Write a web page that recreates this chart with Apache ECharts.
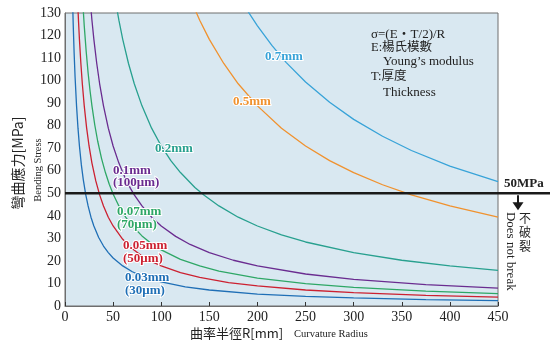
<!DOCTYPE html>
<html><head><meta charset="utf-8">
<script src="https://cdn.jsdelivr.net/npm/echarts@6/dist/echarts.min.js"></script>
<style>html,body{margin:0;padding:0;background:#fff}#c{width:555px;height:341px}</style>
</head><body><div id="c"></div>
<script>
// Curvature radius R [mm] and bending stress [MPa]
const r003 = [7.5, 8.5, 9.5, 10.5, 12, 13.5, 15, 17, 19, 21.5, 24, 27, 30, 35, 40, 45, 50, 60, 70, 80, 100, 125, 150, 200, 250, 300, 375, 450];
const s003 = [142.0, 125.3, 112.1, 101.4, 88.8, 78.9, 71.0, 62.6, 56.1, 49.5, 44.4, 39.4, 35.5, 30.4, 26.6, 23.7, 21.3, 17.8, 15.2, 13.3, 10.7, 8.5, 7.1, 5.3, 4.3, 3.6, 2.8, 2.4];
const r005 = [13, 14, 15, 16.5, 18, 20, 22.5, 25, 28, 32, 36, 40, 45, 50, 60, 70, 80, 90, 100, 120, 140, 170, 200, 250, 300, 375, 450];
const s005 = [136.5, 126.8, 118.3, 107.6, 98.6, 88.8, 78.9, 71.0, 63.4, 55.5, 49.3, 44.4, 39.4, 35.5, 29.6, 25.4, 22.2, 19.7, 17.8, 14.8, 12.7, 10.4, 8.9, 7.1, 5.9, 4.7, 3.9];
const r007 = [18, 20, 22, 24, 26, 28, 31, 34, 38, 42, 46, 50, 56, 63, 70, 80, 90, 100, 120, 140, 160, 200, 250, 300, 375, 450];
const s007 = [138.1, 124.3, 113.0, 103.5, 95.6, 88.8, 80.2, 73.1, 65.4, 59.2, 54.0, 49.7, 44.4, 39.4, 35.5, 31.1, 27.6, 24.9, 20.7, 17.8, 15.5, 12.4, 9.9, 8.3, 6.6, 5.5];
const r01 = [26, 28, 30, 33, 36, 40, 45, 50, 56, 62, 68, 72, 80, 90, 100, 115, 130, 150, 175, 200, 250, 300, 375, 450];
const s01 = [136.5, 126.8, 118.3, 107.6, 98.6, 88.8, 78.9, 71.0, 63.4, 57.3, 52.2, 49.3, 44.4, 39.4, 35.5, 30.9, 27.3, 23.7, 20.3, 17.8, 14.2, 11.8, 9.5, 7.9];
const r02 = [52, 56, 60, 66, 72, 80, 90, 100, 110, 120, 135, 145, 160, 180, 200, 225, 250, 300, 350, 400, 450];
const s02 = [136.5, 126.8, 118.3, 107.6, 98.6, 88.8, 78.9, 71.0, 64.5, 59.2, 52.6, 49.0, 44.4, 39.4, 35.5, 31.6, 28.4, 23.7, 20.3, 17.8, 15.8];
const r05 = [130, 140, 150, 165, 180, 200, 225, 250, 275, 300, 330, 360, 400, 450];
const s05 = [136.5, 126.8, 118.3, 107.6, 98.6, 88.8, 78.9, 71.0, 64.5, 59.2, 53.8, 49.3, 44.4, 39.4];
const r07 = [180, 190, 200, 215, 230, 250, 275, 300, 330, 360, 400, 450];
const s07 = [138.1, 130.8, 124.3, 115.6, 108.0, 99.4, 90.4, 82.8, 75.3, 69.0, 62.1, 55.2];
const threshold = 50;
const xTicks = [0, 450, 50];
const yTicks = [0, 130, 10];

const curves = [
  {name: '0.03mm', r: r003, s: s003, color: '#1f6fb6'},
  {name: '0.05mm', r: r005, s: s005, color: '#cc2131'},
  {name: '0.07mm', r: r007, s: s007, color: '#2ea766'},
  {name: '0.1mm', r: r01, s: s01, color: '#6a2c90'},
  {name: '0.2mm', r: r02, s: s02, color: '#28a08f'},
  {name: '0.5mm', r: r05, s: s05, color: '#f0922f'},
  {name: '0.7mm', r: r07, s: s07, color: '#38a3d8'}
];

const chart = echarts.init(document.getElementById('c'), null, {renderer: 'canvas'});
const serif = '"Liberation Serif", "Noto Sans CJK TC", serif';
const sans = '"Noto Sans CJK TC", "Noto Sans", sans-serif';

chart.setOption({
  animation: false,
  grid: {left: 65, top: 13, right: 57, bottom: 35, show: true, backgroundColor: '#d9e8f1', borderColor: '#6e6e6e', borderWidth: 1},
  xAxis: {type: 'value', min: xTicks[0], max: xTicks[1], interval: xTicks[2],
    axisLine: {lineStyle: {color: '#6e6e6e'}},
    axisTick: {inside: true, length: 4, lineStyle: {color: '#333'}},
    splitLine: {show: false},
    axisLabel: {fontFamily: serif, fontSize: 14, color: '#222', margin: 4}},
  yAxis: {type: 'value', min: yTicks[0], max: yTicks[1], interval: yTicks[2],
    axisLine: {show: true, lineStyle: {color: '#6e6e6e'}},
    axisTick: {show: false},
    splitLine: {show: false},
    axisLabel: {fontFamily: serif, fontSize: 14, color: '#222', margin: 4}},
  series: curves.map(c => ({
    type: 'line', name: c.name, smooth: false, symbol: 'none', clip: true,
    lineStyle: {color: c.color, width: 1.3},
    data: c.r.map((v, i) => [v, c.s[i]])
  }))
});

const p0 = chart.convertToPixel({gridIndex: 0}, [xTicks[0], threshold]);
const ty = p0[1];

function lbl(text, x, y, color, extra) {
  return Object.assign({type: 'text', x: x, y: y, silent: true, z: 50,
    style: {text: text, fill: color, font: 'bold 13px ' + serif, stroke: '#fff', lineWidth: 2,
      textAlign: 'left', textVerticalAlign: 'middle'}}, extra || {});
}
function txt(text, x, y, font, opts) {
  const o = opts || {};
  return {type: 'text', x: x, y: y, rotation: o.rot || 0, silent: true,
    style: {text: text, fill: o.color || '#222', font: font,
      textAlign: o.align || 'left', textVerticalAlign: 'middle', lineHeight: o.lh}};
}

chart.setOption({
  graphic: [
    // threshold line
    {type: 'line', shape: {x1: p0[0], y1: ty, x2: 550, y2: ty}, style: {stroke: '#1a1a1a', lineWidth: 2.5}, z: 100},
    txt('50MPa', 504, ty - 10, 'bold 13px ' + serif),
    {type: 'line', shape: {x1: 518, y1: ty + 2, x2: 518, y2: ty + 10}, style: {stroke: '#1a1a1a', lineWidth: 2}},
    {type: 'polygon', shape: {points: [[512.5, ty + 9], [523.5, ty + 9], [518, ty + 17]]}, style: {fill: '#1a1a1a'}},
    txt('不\n破\n裂', 525, ty + 39, '12px ' + sans, {align: 'center', lh: 14}),
    txt('Does not break', 510, ty + 58, '13px ' + serif, {align: 'center', rot: -Math.PI / 2}),
    // axis titles
    txt('彎曲應力[MPa]', 18, 163, '14px ' + sans, {align: 'center', rot: Math.PI / 2}),
    txt('Bending Stress', 38, 170, '10.5px ' + serif, {align: 'center', rot: Math.PI / 2}),
    txt('曲率半徑R[mm]', 190, 333, '13px ' + sans),
    txt('Curvature Radius', 294, 334, '10.5px ' + serif),
    // formula
    txt('σ=(E・T/2)/R', 371, 35, '13px ' + serif),
    txt('E:楊氏模數', 371, 48, '12.5px ' + serif),
    txt('Young\u2019s modulus', 383, 62, '13px ' + serif),
    txt('T:厚度', 371, 77, '12.5px ' + serif),
    txt('Thickness', 383, 93, '13px ' + serif),
    // curve labels
    lbl('0.7mm', 265, 57, curves[6].color),
    lbl('0.5mm', 233, 102, curves[5].color),
    lbl('0.2mm', 155, 149, curves[4].color),
    lbl('0.1mm', 113, 171, curves[3].color),
    lbl('(100μm)', 113, 183, curves[3].color),
    lbl('0.07mm', 117, 212, curves[2].color),
    lbl('(70μm)', 117, 225, curves[2].color),
    lbl('0.05mm', 123, 246, curves[1].color),
    lbl('(50μm)', 123, 259, curves[1].color),
    lbl('0.03mm', 125, 278, curves[0].color),
    lbl('(30μm)', 125, 291, curves[0].color)
  ]
});
</script></body></html>
